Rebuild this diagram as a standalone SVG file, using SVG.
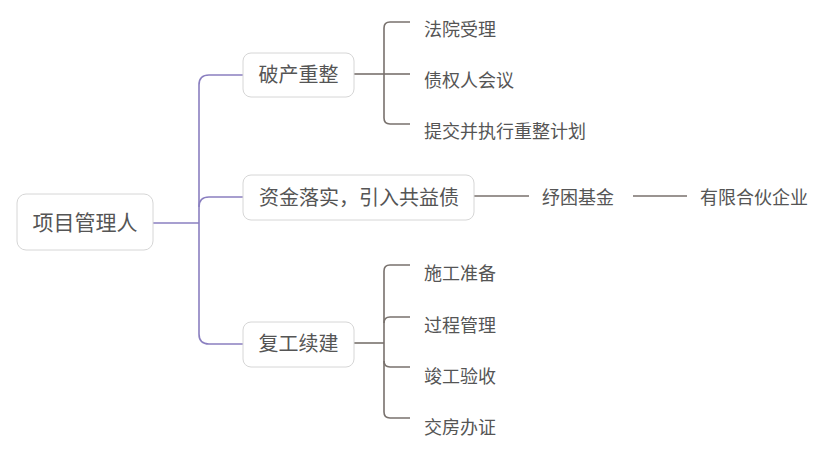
<svg xmlns="http://www.w3.org/2000/svg" width="820" height="449" viewBox="0 0 820 449">
<style>
.box{fill:#ffffff;stroke:#d6d6d6;stroke-width:1}
.t{font-family:"Noto Sans CJK SC","Noto Sans",sans-serif;fill:#555555}
.root{font-size:21px}
.main{font-size:20px}
.sub{font-size:18px}
.p{fill:none;stroke:#8a7fc0;stroke-width:1.6}
.g{fill:none;stroke:#78716d;stroke-width:1.6}
</style>
<rect width="820" height="449" fill="#ffffff"/>
<g id="connectors">
<path class="p" d="M153,223 H199"/>
<path class="p" d="M243,75 H209 Q199,75 199,85 V334 Q199,344 209,344 H243"/>
<path class="p" d="M199,207 Q199,197 209,197 H243"/>
<path class="g" d="M354,74 H384"/>
<path class="g" d="M410,22 H390 Q384,22 384,28 V118 Q384,124 390,124 H410"/>
<path class="g" d="M384,74 H410"/>
<path class="g" d="M474,196 H529"/>
<path class="g" d="M633,196 H687"/>
<path class="g" d="M354,343 H384"/>
<path class="g" d="M410,265 H390 Q384,265 384,271 V412 Q384,418 390,418 H410"/>
<path class="g" d="M384,323 Q384,317 390,317 H410"/>
<path class="g" d="M384,361 Q384,367 390,367 H410"/>
</g>
<g id="root">
<rect class="box" x="17" y="194" width="136" height="56" rx="9"/>
<text class="t root" x="85" y="229.5" text-anchor="middle">项目管理人</text>
</g>
<g id="n1">
<rect class="box" x="243" y="53" width="111" height="44" rx="8"/>
<text class="t main" x="298.5" y="82" text-anchor="middle">破产重整</text>
</g>
<g id="n2">
<rect class="box" x="243" y="175" width="231" height="45" rx="8"/>
<text class="t main" x="359" y="204.5" text-anchor="middle">资金落实，引入共益债</text>
</g>
<g id="n3">
<rect class="box" x="243" y="322" width="111" height="45" rx="8"/>
<text class="t main" x="298.5" y="351" text-anchor="middle">复工续建</text>
</g>
<g id="c1"><text class="t sub" x="424" y="35.5">法院受理</text></g>
<g id="c2"><text class="t sub" x="424" y="86.5">债权人会议</text></g>
<g id="c3"><text class="t sub" x="424" y="137.5">提交并执行重整计划</text></g>
<g id="c4"><text class="t sub" x="542" y="203.5">纾困基金</text></g>
<g id="c5"><text class="t sub" x="700" y="203.5">有限合伙企业</text></g>
<g id="c6"><text class="t sub" x="424" y="279.5">施工准备</text></g>
<g id="c7"><text class="t sub" x="424" y="331.5">过程管理</text></g>
<g id="c8"><text class="t sub" x="424" y="382.5">竣工验收</text></g>
<g id="c9"><text class="t sub" x="424" y="433.5">交房办证</text></g>
</svg>
